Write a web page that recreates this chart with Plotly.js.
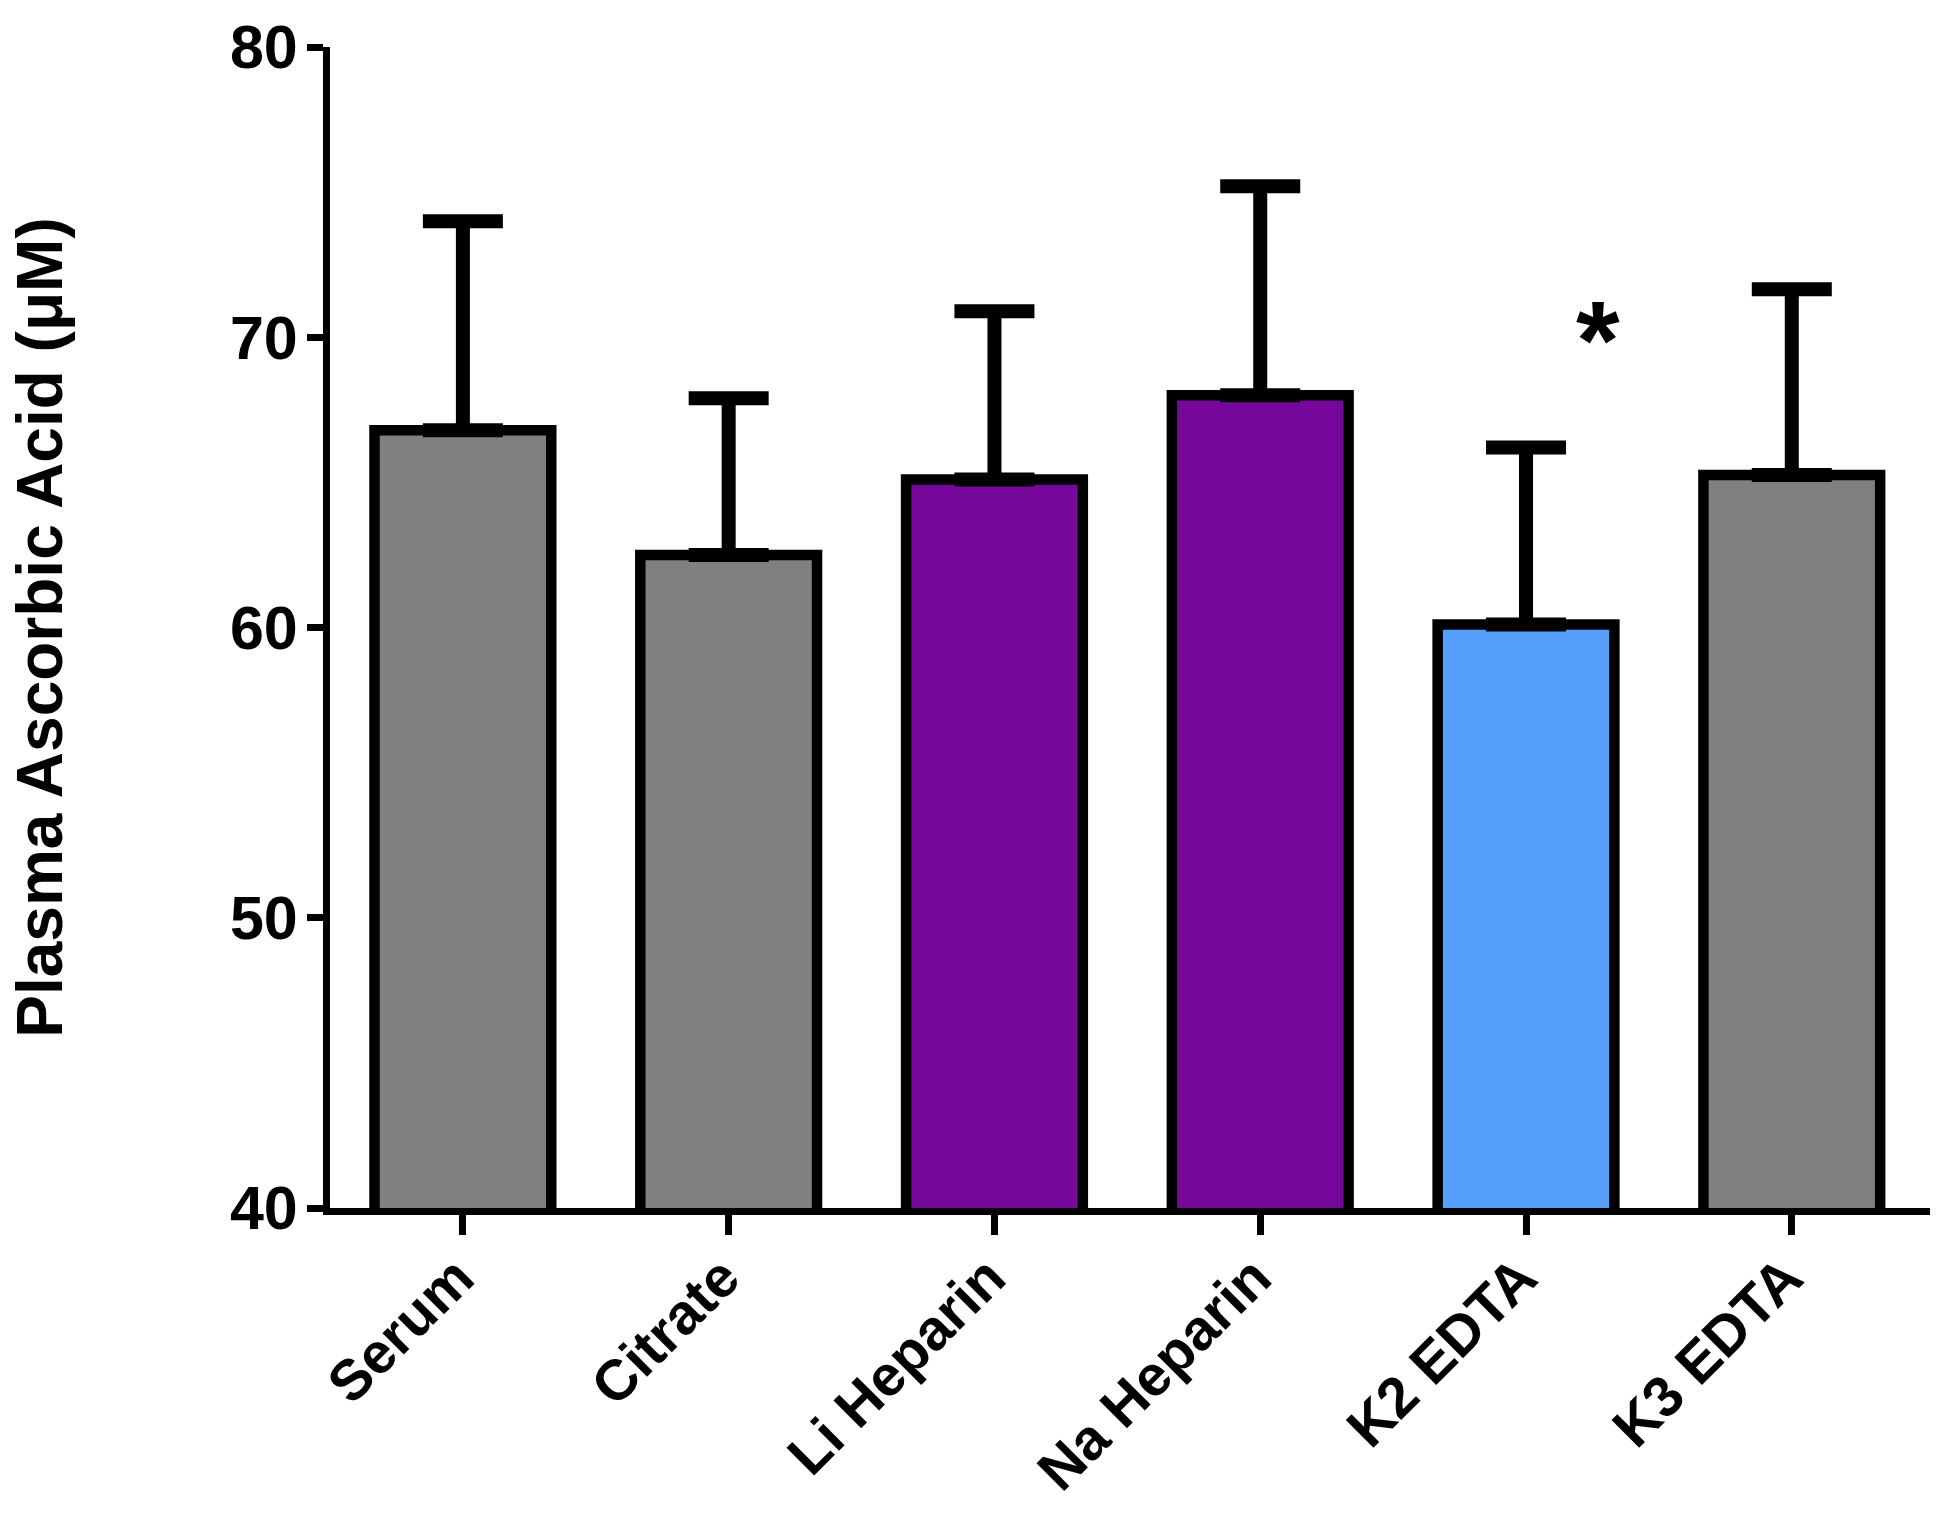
<!DOCTYPE html>
<html>
<head>
<meta charset="utf-8">
<script src="https://cdn.plot.ly/plotly-3.0.1.min.js"></script>
<style>
  html, body { margin: 0; padding: 0; background: #ffffff; }
  #chart { width: 1942px; height: 1513px; }
</style>
</head>
<body>
<div id="chart"></div>
<script>
// ---- data ----
const categories = ["Serum", "Citrate", "Li Heparin", "Na Heparin", "K2 EDTA", "K3 EDTA"];
const meanValues = [66.8, 62.5, 65.1, 68.0, 60.1, 65.25];
const errorPlus  = [7.2, 5.4, 5.8, 7.2, 6.1, 6.4];
const errorMinus = [0, 0, 0, 0, 0, 0];
const barColors  = ["#808080", "#808080", "#75079a", "#75079a", "#569ffb", "#808080"];
const yTickValues = [40, 50, 60, 70, 80];
const yTickLabels = ["40", "50", "60", "70", "80"];
const yTitleText = "Plasma Ascorbic Acid (\u03bcM)";
const markText = "*";
const markCategoryIndex = 4;
const markValue = 69.9;

const FONT = "Liberation Sans, Arial, Helvetica, sans-serif";

const trace = {
  type: "bar",
  x: categories,
  y: meanValues,
  width: 0.665,
  marker: {
    color: barColors,
    line: { color: "#000000", width: 10.5 }
  },
  error_y: {
    type: "data",
    symmetric: false,
    array: errorPlus,
    arrayminus: errorMinus,
    color: "#000000",
    thickness: 14,
    width: 40
  },
  hoverinfo: "x+y"
};

const layout = {
  width: 1942,
  height: 1513,
  paper_bgcolor: "#ffffff",
  plot_bgcolor: "#ffffff",
  showlegend: false,
  margin: { l: 330, r: 12, t: 47, b: 305, pad: 0 },
  font: { family: FONT, color: "#000000" },
  xaxis: {
    type: "category",
    range: [-0.5, 5.52],
    showgrid: false,
    zeroline: false,
    showline: true,
    linecolor: "#000000",
    linewidth: 7,
    ticks: "outside",
    ticklen: 20,
    tickwidth: 7,
    tickcolor: "#000000",
    tickangle: -45,
    ticklabelstandoff: -14,
    ticklabelshift: -6,
    tickfont: { family: FONT, size: 57, weight: "bold", color: "#000000" },
    automargin: false,
    fixedrange: true
  },
  yaxis: {
    range: [40, 80],
    tickmode: "array",
    tickvals: yTickValues,
    ticktext: yTickLabels,
    showgrid: false,
    zeroline: false,
    showline: true,
    linecolor: "#000000",
    linewidth: 7,
    ticks: "outside",
    ticklen: 16,
    tickwidth: 7,
    tickcolor: "#000000",
    ticklabelstandoff: -3,
    tickfont: { family: FONT, size: 61, weight: "bold", color: "#000000" },
    title: {
      text: yTitleText,
      font: { family: FONT, size: 64, weight: "bold", color: "#000000" },
      standoff: 149
    },
    automargin: false,
    fixedrange: true
  },
  annotations: [
    {
      xref: "x",
      yref: "y",
      x: markCategoryIndex,
      y: markValue,
      xshift: 72,
      text: markText,
      showarrow: false,
      font: { family: FONT, size: 112, weight: "bold", color: "#000000" },
      xanchor: "center",
      yanchor: "middle"
    }
  ]
};

Plotly.newPlot("chart", [trace], layout, { displayModeBar: false, staticPlot: true });
</script>
</body>
</html>
